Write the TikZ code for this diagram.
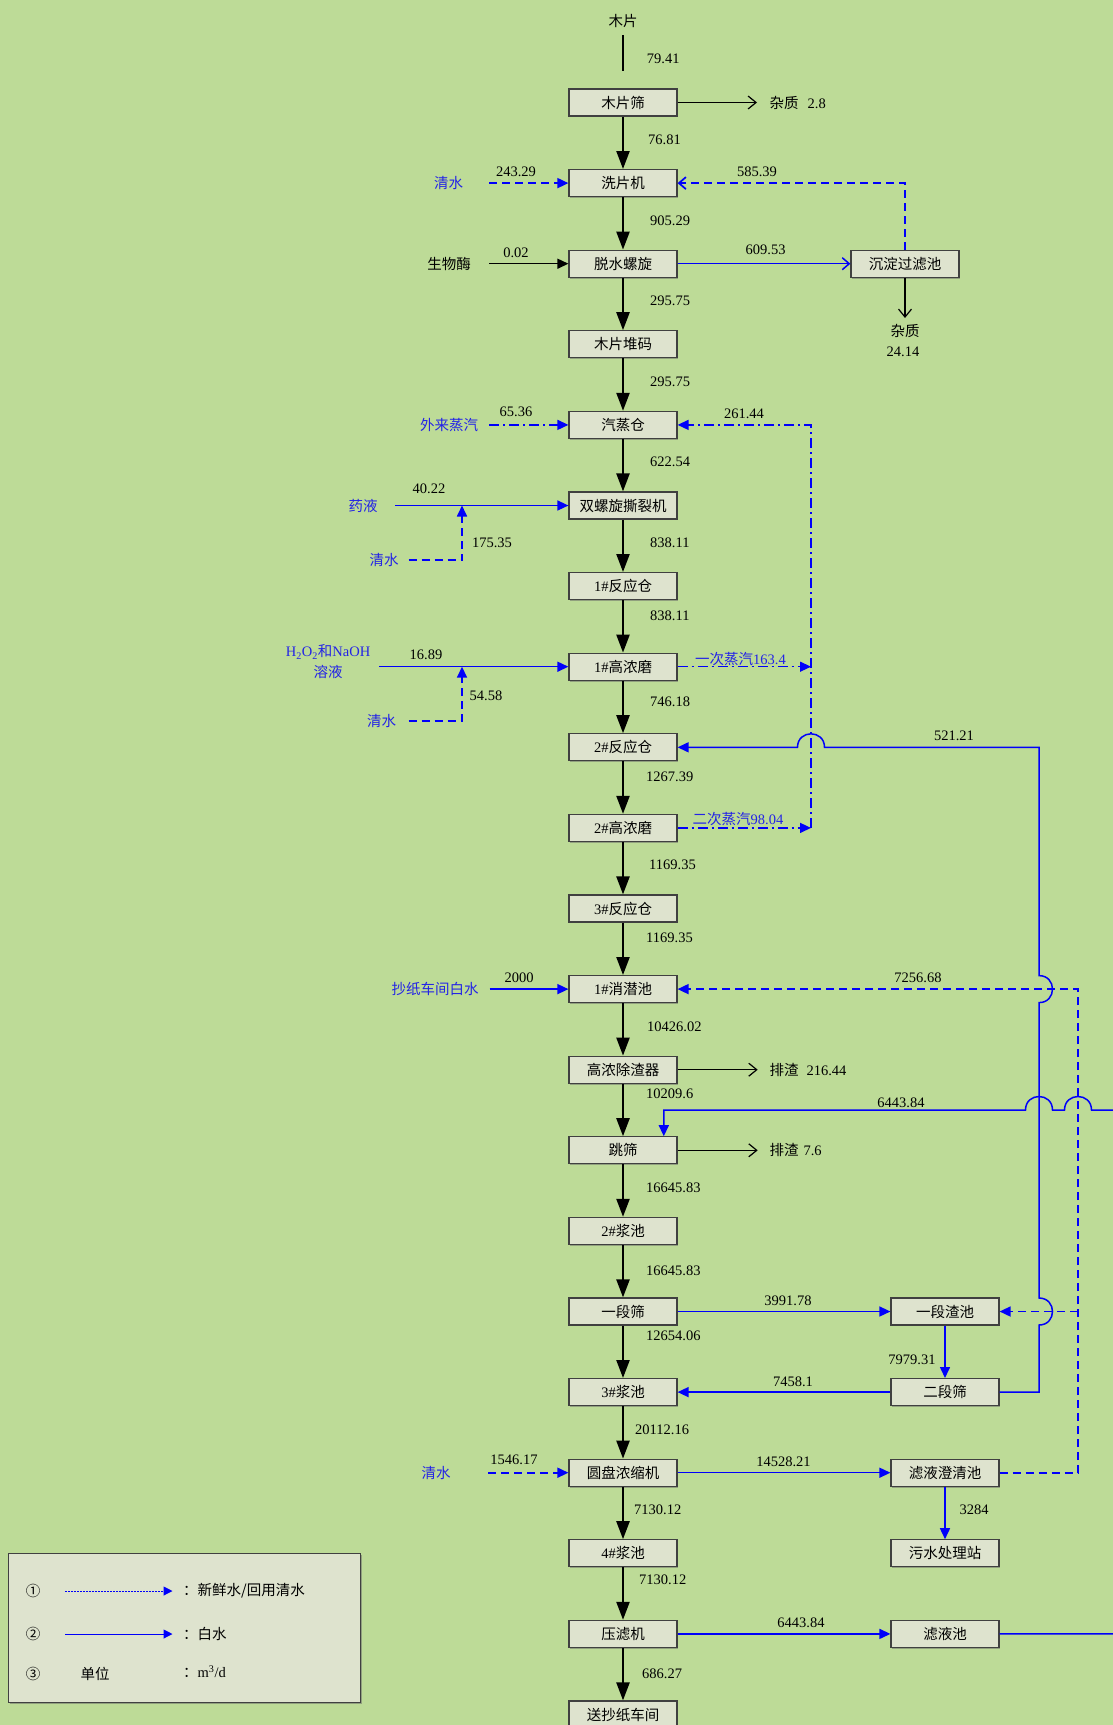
\documentclass[tikz,border=0pt]{standalone}
\usepackage{fontspec}
\setmainfont{Liberation Serif}
\newfontfamily\zh{Noto Sans CJK SC}
\usetikzlibrary{arrows.meta,shadows}

\definecolor{pagebg}{RGB}{189,219,151}
\definecolor{boxfill}{RGB}{222,227,206}
\definecolor{boxline}{RGB}{64,64,64}
\definecolor{flow}{RGB}{0,0,250}
\definecolor{flowtxt}{RGB}{35,35,230}

\tikzset{
  procbox/.style={draw=boxline, line width=1.2pt, fill=boxfill, minimum width=108pt,
    minimum height=27pt, inner sep=0pt,
    drop shadow={shadow xshift=1.3pt, shadow yshift=-1.3pt, fill=black!60}},
  mainflow/.style={draw=black, line width=2.3pt, -{Triangle[length=18pt,width=13pt]}},
  reject/.style={draw=black, line width=1.2pt, -{Straight Barb[length=8pt,width=13pt]}},
  openhead/.style={-{Straight Barb[length=7pt,width=12pt]}},
  bhead/.style={-{Triangle[length=11pt,width=10pt]}},
  wflow/.style={draw=flow, line width=1.5pt},
  fresh/.style={draw=flow, line width=1.7pt, dash pattern=on 8pt off 5pt},
  steam/.style={draw=flow, line width=1.4pt, dash pattern=on 10pt off 4pt on 2pt off 4pt},
  num/.style={inner sep=0pt, text=black},
  btxt/.style={inner sep=0pt, text=flowtxt},
  ktxt/.style={inner sep=0pt, text=black},
}

\begin{document}
\begin{tikzpicture}[x=1pt,y=-1pt,font=\fontsize{14.5}{17}\selectfont]
\fill[pagebg] (0,0) rectangle (1113,1725);
\useasboundingbox (0,0) rectangle (1113,1725);

% ---- main process column ----
\node[procbox] (s0)  at (623,102.5)  {\zh 木片筛};
\node[procbox] (s1)  at (623,183.1)  {\zh 洗片机};
\node[procbox] (s2)  at (623,263.7)  {\zh 脱水螺旋};
\node[procbox] (s3)  at (623,344.3)  {\zh 木片堆码};
\node[procbox] (s4)  at (623,424.9)  {\zh 汽蒸仓};
\node[procbox] (s5)  at (623,505.5)  {\zh 双螺旋撕裂机};
\node[procbox] (s6)  at (623,586.1)  {1\#{\zh 反应仓}};
\node[procbox] (s7)  at (623,666.7)  {1\#{\zh 高浓磨}};
\node[procbox] (s8)  at (623,747.3)  {2\#{\zh 反应仓}};
\node[procbox] (s9)  at (623,827.9)  {2\#{\zh 高浓磨}};
\node[procbox] (s10) at (623,908.5)  {3\#{\zh 反应仓}};
\node[procbox] (s11) at (623,989.1)  {1\#{\zh 消潜池}};
\node[procbox] (s12) at (623,1069.7) {\zh 高浓除渣器};
\node[procbox] (s13) at (623,1150.3) {\zh 跳筛};
\node[procbox] (s14) at (623,1230.9) {2\#{\zh 浆池}};
\node[procbox] (s15) at (623,1311.5) {\zh 一段筛};
\node[procbox] (s16) at (623,1392.1) {3\#{\zh 浆池}};
\node[procbox] (s17) at (623,1472.7) {\zh 圆盘浓缩机};
\node[procbox] (s18) at (623,1553.3) {4\#{\zh 浆池}};
\node[procbox] (s19) at (623,1633.9) {\zh 压滤机};
\node[procbox] (s20) at (623,1714.5) {\zh 送抄纸车间};

% ---- side units ----
\node[procbox] (pool) at (905,263.7)  {\zh 沉淀过滤池};
\node[procbox] (r1)   at (945,1311.5) {\zh 一段渣池};
\node[procbox] (r2)   at (945,1392.1) {\zh 二段筛};
\node[procbox] (clar) at (945,1472.7) {\zh 滤液澄清池};
\node[procbox] (sew)  at (945,1553.3) {\zh 污水处理站};
\node[procbox] (filt) at (945,1633.9) {\zh 滤液池};

% ---- main stock flow ----
\foreach \a/\b in {s0/s1,s1/s2,s2/s3,s3/s4,s4/s5,s5/s6,s6/s7,s7/s8,s8/s9,s9/s10,
  s10/s11,s11/s12,s12/s13,s13/s14,s14/s15,s15/s16,s16/s17,s17/s18,s18/s19,s19/s20}
  \draw[mainflow] (\a) -- (\b);

\node[ktxt] (chips) at (623,21) {\zh 木片};
\coordinate (feedA) at (623,35);
\coordinate (feedB) at (623,71);
\draw[line width=2.3pt] (feedA) -- (feedB);

\node[num,anchor=west] (m0)  at (646.7,59)  {79.41};
\node[num,anchor=west] (m1)  at (648,140)   {76.81};
\node[num,anchor=west] (m2)  at (650,221)   {905.29};
\node[num,anchor=west] (m3)  at (650,301)   {295.75};
\node[num,anchor=west] (m4)  at (650,382)   {295.75};
\node[num,anchor=west] (m5)  at (650,462)   {622.54};
\node[num,anchor=west] (m6)  at (650,543)   {838.11};
\node[num,anchor=west] (m7)  at (650,616)   {838.11};
\node[num,anchor=west] (m8)  at (650,702)   {746.18};
\node[num,anchor=west] (m9)  at (646,777)   {1267.39};
\node[num,anchor=west] (m10) at (649,865)   {1169.35};
\node[num,anchor=west] (m11) at (646,938)   {1169.35};
\node[num,anchor=west] (m12) at (647,1027)  {10426.02};
\node[num,anchor=west] (m13) at (646,1094)  {10209.6};
\node[num,anchor=west] (m14) at (646,1188)  {16645.83};
\node[num,anchor=west] (m15) at (646,1271)  {16645.83};
\node[num,anchor=west] (m16) at (646,1336)  {12654.06};
\node[num,anchor=west] (m17) at (635,1430)  {20112.16};
\node[num,anchor=west] (m18) at (634,1510)  {7130.12};
\node[num,anchor=west] (m19) at (639,1580)  {7130.12};
\node[num,anchor=west] (m20) at (642,1674)  {686.27};

% ---- chip screen rejects ----
\coordinate (rej0) at (757,102.5);
\draw[reject] (s0) -- (rej0);
\node[num,anchor=west] (rej0t) at (769.5,102.5) {{\zh 杂质}\hspace{9pt}2.8};

% ---- chip washer ----
\node[btxt] (w1) at (448.5,183.1) {\zh 清水};
\coordinate (w1s) at (489,183.1);
\draw[fresh,bhead] (w1s) -- (s1);
\node[num] (w1n) at (516,172) {243.29};
\draw[fresh,openhead] (pool) |- (s1);
\node[num] (pooln) at (757,172) {585.39};

% ---- dewatering screw ----
\node[ktxt] (enz) at (449,263.7) {\zh 生物酶};
\coordinate (enzs) at (489,263.7);
\draw[line width=1.4pt,bhead] (enzs) -- (s2);
\node[num] (enzn) at (516,253) {0.02};
\draw[wflow,openhead] (s2) -- (pool);
\node[num] (pooln2) at (765.6,250) {609.53};
\coordinate (dregs) at (905,318);
\draw[reject] (pool) -- (dregs);
\node[ktxt] (dregst) at (905,331) {\zh 杂质};
\node[num] (dregsn) at (903,352) {24.14};

% ---- steaming bin ----
\node[btxt] (st) at (449,424.9) {\zh 外来蒸汽};
\coordinate (sts) at (489,424.9);
\draw[steam,bhead] (sts) -- (s4);
\node[num] (stn) at (516,412) {65.36};
\coordinate (stA) at (811,827.9);
\coordinate (st1) at (811,666.7);
\draw[steam,bhead] (stA) |- (s4);
\node[num] (stAn) at (744,414) {261.44};

% ---- twin screw ----
\node[btxt] (liq) at (363,505.5) {\zh 药液};
\coordinate (liqs) at (395,505.5);
\draw[wflow,bhead] (liqs) -- (s5);
\node[num] (liqn) at (429,489) {40.22};
\node[btxt] (w5) at (384,560) {\zh 清水};
\coordinate (w5s) at (408.5,560);
\coordinate (w5j) at (462,505.5);
\draw[fresh,bhead] (w5s) -| (w5j);
\node[num] (w5n) at (492,543) {175.35};

% ---- 1# refiner ----
\node[btxt] (chemA) at (328,652) {H\textsubscript{2}O\textsubscript{2}{\zh 和}NaOH};
\node[btxt] (chemB) at (328,672) {\zh 溶液};
\coordinate (chems) at (379.4,666.7);
\draw[wflow,bhead] (chems) -- (s7);
\node[num] (chemn) at (426,655) {16.89};
\node[btxt] (w7) at (381.5,720.7) {\zh 清水};
\coordinate (w7s) at (408.5,720.7);
\coordinate (w7j) at (462,666.7);
\draw[fresh,bhead] (w7s) -| (w7j);
\node[num] (w7n) at (486,696) {54.58};
\draw[steam,bhead] (s7) -- (st1);
\node[btxt] (st1t) at (740.5,658.7) {{\zh 一次蒸汽}163.4};

% ---- 2# refiner ----
\draw[steam,bhead] (s9) -- (stA);
\node[btxt] (st2t) at (738,819.3) {{\zh 二次蒸汽}98.04};

% ---- white water back from second screen ----
\coordinate (ret1) at (1039,1392.1);
\draw[wflow,bhead] (r2.east) -- (ret1) -- (1039,1325)
  .. controls (1057,1325) and (1057,1298) .. (1039,1298)
  -- (1039,1002.6) .. controls (1057,1002.6) and (1057,975.6) .. (1039,975.6)
  -- (1039,747.3) -- (824.5,747.3)
  .. controls (824.5,729.3) and (797.5,729.3) .. (797.5,747.3) -- (s8.east);
\node[num] (retn) at (954,735.7) {521.21};

% ---- filtrate loop to jump screen ----
\coordinate (f6) at (663.8,1110);
\draw[wflow,bhead] (filt.east) -- (1140,1633.9) -- (1140,1110) -- (1091.5,1110)
  .. controls (1091.5,1092) and (1064.5,1092) .. (1064.5,1110)
  -- (1052.5,1110) .. controls (1052.5,1092) and (1025.5,1092) .. (1025.5,1110)
  -- (f6) -- (f6 |- s13.north);
\node[num] (f6n) at (901,1102.7) {6443.84};

% ---- clarified water loop ----
\coordinate (dj) at (1078,1311.5);
\draw[fresh,bhead] (clar.east) -- (1078,1472.7) -- (1078,989.1) -- (s11.east);
\draw[fresh,bhead] (dj) -- (r1.east);
\node[num] (djn) at (918,977.7) {7256.68};

% ---- dilution with machine white water ----
\node[btxt] (pw) at (435,989.1) {\zh 抄纸车间白水};
\coordinate (pws) at (489.7,989.1);
\draw[wflow,bhead] (pws) -- (s11);
\node[num] (pwn) at (519,977.7) {2000};

% ---- cleaner / jump screen rejects ----
\coordinate (rej12) at (757.7,1069.7);
\draw[reject] (s12) -- (rej12);
\node[num,anchor=west] (rej12t) at (769.4,1069.7) {{\zh 排渣}\hspace{8pt}216.44};
\coordinate (rej13) at (757.7,1150.3);
\draw[reject] (s13) -- (rej13);
\node[num,anchor=west] (rej13t) at (769.4,1150.3) {{\zh 排渣}\hspace{5pt}7.6};

% ---- screening ----
\draw[wflow,bhead] (s15) -- (r1);
\node[num] (r1n) at (788,1300.7) {3991.78};
\draw[wflow,bhead] (r1) -- (r2);
\node[num] (r2n) at (912,1360) {7979.31};
\draw[wflow,bhead] (r2) -- (s16);
\node[num] (r2m) at (793,1381.7) {7458.1};

% ---- disc thickener ----
\node[btxt] (w17) at (436,1472.7) {\zh 清水};
\coordinate (w17s) at (488,1472.7);
\draw[fresh,bhead] (w17s) -- (s17);
\node[num] (w17n) at (514,1459.3) {1546.17};
\draw[wflow,bhead] (s17) -- (clar);
\node[num] (clarn) at (783.5,1462) {14528.21};
\draw[wflow,bhead] (clar) -- (sew);
\node[num] (sewn) at (974,1510) {3284};

% ---- filter press ----
\draw[wflow,bhead] (s19) -- (filt);
\node[num] (filtn) at (801,1622.7) {6443.84};

% ---- legend ----
\node[draw=boxline, fill=boxfill, line width=1.2pt, minimum width=352pt,
  minimum height=149.5pt, inner sep=0pt,
  drop shadow={shadow xshift=1.3pt, shadow yshift=-1.3pt, fill=black!60}] (legend) at (184.5,1628) {};
\node[ktxt] (k1) at (33,1591) {\zh ①};
\coordinate (k1a) at (65,1591);
\coordinate (k1b) at (172.5,1591);
\draw[draw=flow, line width=1pt, dash pattern=on 2pt off 1pt,
  -{Triangle[length=9pt,width=9pt]}] (k1a) -- (k1b);
\node[ktxt,anchor=west] (k1t) at (183,1591) {\zh ：新鲜水/回用清水};
\node[ktxt] (k2) at (33,1634) {\zh ②};
\coordinate (k2a) at (65,1634);
\coordinate (k2b) at (172.5,1634);
\draw[draw=flow, line width=1pt, -{Triangle[length=9pt,width=9pt]}] (k2a) -- (k2b);
\node[ktxt,anchor=west] (k2t) at (183,1634) {\zh ：白水};
\node[ktxt] (k3) at (33,1674) {\zh ③};
\node[ktxt] (k3a) at (95,1674) {\zh 单位};
\node[ktxt,anchor=west] (k3t) at (183,1672) {{\zh ：}m\textsuperscript{3}/d};
\end{tikzpicture}
\end{document}
